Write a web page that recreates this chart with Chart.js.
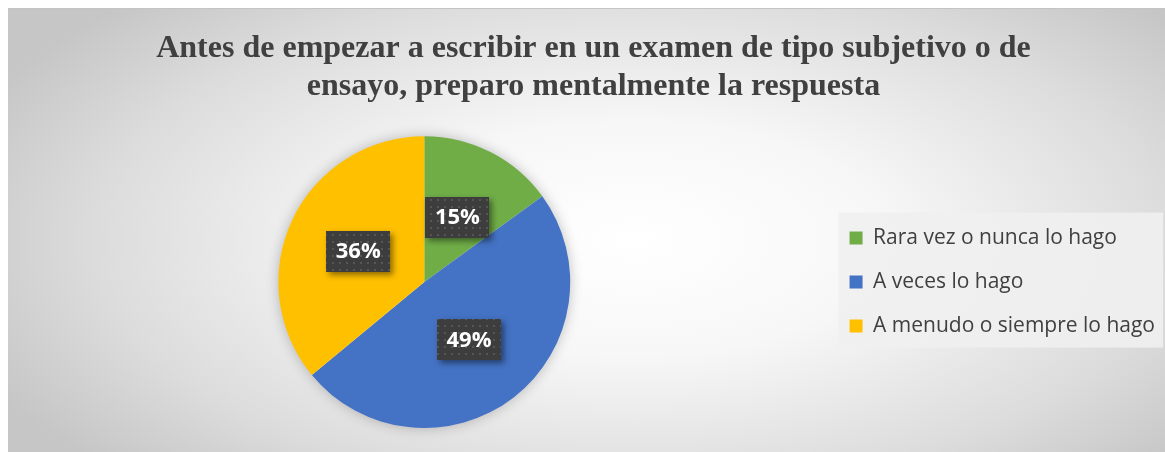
<!DOCTYPE html>
<html>
<head>
<meta charset="utf-8">
<script src="https://cdn.jsdelivr.net/npm/chart.js@4.4.1/dist/chart.umd.min.js"></script>
<style>
  html, body { margin: 0; padding: 0; background: #ffffff; overflow: hidden; }
  #frame {
    position: absolute; left: 8px; top: 8px; width: 1157px; height: 444px;
    border-top: 1px solid #c4c4c4;
    background: radial-gradient(ellipse 62% 75% at 54% 52%, #ffffff 0%, #f7f7f7 35%, #dcdcdc 75%, #c6c6c6 100%);
  }
  #chart { position: absolute; left: 0; top: 0; }
</style>
</head>
<body>
<div id="frame"></div>
<canvas id="chart" width="1165" height="452"></canvas>
<script>
const titleLines = ['Antes de empezar a escribir en un examen de tipo subjetivo o de',
                    'ensayo, preparo mentalmente la respuesta'];
const categories = ['Rara vez o nunca lo hago', 'A veces lo hago', 'A menudo o siempre lo hago'];
const shares = [15, 49, 36];
const sliceColors = ['#70AD47', '#4472C4', '#FFC000'];

// dotted dark fill used behind the percentage labels
function makeDots(ctx) {
    const tile = document.createElement('canvas');
    tile.width = 7;
    tile.height = 7;
    const t = tile.getContext('2d');
    t.fillStyle = '#3d3d3d';
    t.fillRect(0, 0, 7, 7);
    t.fillStyle = '#565656';
    t.fillRect(3, 3, 2, 2);
    return ctx.createPattern(tile, 'repeat');
}

// light panel behind the legend + soft glow under the pie
const backdrop = {
    id: 'backdrop',
    beforeDraw(chart) {
        const ctx = chart.ctx;
        const boxes = chart.legend.legendHitBoxes;
        if (boxes && boxes.length) {
            const first = boxes[0];
            const last = boxes[boxes.length - 1];
            const x0 = first.left - 11;
            const y0 = first.top - 15;
            const y1 = last.top + last.height + 11;
            ctx.save();
            ctx.fillStyle = 'rgba(240,240,240,0.9)';
            ctx.fillRect(x0, y0, 1163 - x0, y1 - y0);
            ctx.restore();
        }
    },
    beforeDatasetsDraw(chart) {
        const arc = chart.getDatasetMeta(0).data[0];
        if (!arc) {
            return;
        }
        const ctx = chart.ctx;
        ctx.save();
        ctx.shadowColor = 'rgba(0,0,0,0.28)';
        ctx.shadowBlur = 14;
        ctx.fillStyle = '#ffffff';
        ctx.beginPath();
        ctx.arc(arc.x, arc.y, arc.outerRadius - 1, 0, Math.PI * 2);
        ctx.fill();
        ctx.restore();
    }
};

const labelBoxes = {
    id: 'labelBoxes',
    afterDatasetsDraw(chart) {
        const ctx = chart.ctx;
        const dots = makeDots(ctx);
        const meta = chart.getDatasetMeta(0);
        meta.data.forEach(function(arc, i) {
            const pos = arc.tooltipPosition();
            const w = 64, h = 41;
            const left = Math.round(pos.x - w / 2);
            const top = Math.round(pos.y - h / 2);
            ctx.save();
            ctx.shadowColor = 'rgba(0,0,0,0.45)';
            ctx.shadowBlur = 6;
            ctx.shadowOffsetX = 3;
            ctx.shadowOffsetY = 3;
            ctx.fillStyle = '#3d3d3d';
            ctx.fillRect(left, top, w, h);
            ctx.restore();
            ctx.save();
            ctx.fillStyle = dots;
            ctx.fillRect(left, top, w, h);
            ctx.fillStyle = '#ffffff';
            ctx.font = 'bold 22px "Open Sans", sans-serif';
            ctx.textAlign = 'center';
            ctx.textBaseline = 'middle';
            ctx.fillText(shares[i] + '%', pos.x, pos.y + 1);
            ctx.restore();
        });
    }
};

const CTX = document.getElementById('chart').getContext('2d');
new Chart(CTX, {
    type: 'pie',
    data: {
        labels: categories,
        datasets: [
            {
                data: shares,
                backgroundColor: sliceColors,
                borderWidth: 0
            }
        ]
    },
    options: {
        responsive: false,
        animation: false,
        layout: {
            padding: { top: 10, left: 22, right: 0, bottom: 24 }
        },
        plugins: {
            tooltip: { enabled: false },
            title: {
                display: true,
                text: titleLines,
                color: '#404040',
                font: { family: '"Liberation Serif", "Times New Roman", serif', size: 32, weight: 'bold', lineHeight: 1.19 },
                padding: { top: 20, bottom: 30 }
            },
            legend: {
                position: 'right',
                fullSize: false,
                labels: {
                    boxWidth: 13,
                    boxHeight: 13,
                    padding: 23,
                    color: '#404040',
                    font: { family: '"Open Sans", sans-serif', size: 21 }
                }
            }
        }
    },
    plugins: [backdrop, labelBoxes]
});
</script>
</body>
</html>
